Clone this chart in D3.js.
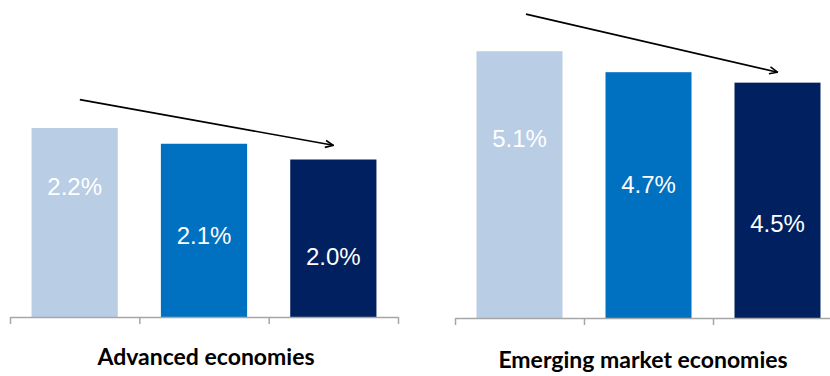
<!DOCTYPE html>
<html>
<head>
<meta charset="utf-8">
<script src="https://cdn.jsdelivr.net/npm/d3@7"></script>
<style>
  html, body { margin: 0; padding: 0; background: #fff; }
  svg { display: block; }
</style>
</head>
<body>
<svg id="chart" width="830" height="376"></svg>
<script>
// ---- data ----
const periods = ["A", "B", "C"];
const advancedValues = [2.2, 2.1, 2.0];
const emergingValues = [5.1, 4.7, 4.5];
const valueLabels = v => v.toFixed(1) + "%";
const groupNames = ["Advanced economies", "Emerging market economies"];
const barColors = ["#B9CDE5", "#0070C0", "#002060"];

// ---- layout (not data) ----
const panels = [
  { name: groupNames[0], values: advancedValues, x0: 10, x1: 398, base: 317, yDomain: [1, 3], yTop: 2,
    labelY: [195, 244, 265], titleX: 206, titleY: 365,
    arrow: { from: [0.04, 2.38], to: [2.0, 2.09] } },
  { name: groupNames[1], values: emergingValues, x0: 455, x1: 842, base: 318, yDomain: [0, 6], yTop: 4.2,
    labelY: [147, 193, 232], titleX: 643, titleY: 368,
    arrow: { from: [0.05, 5.81], to: [2.0, 4.70] } }
];

const svg = d3.select("#chart");
const defs = svg.append("defs");
defs.append("marker")
  .attr("id", "arrowhead")
  .attr("viewBox", "0 0 10 10")
  .attr("refX", 9).attr("refY", 5)
  .attr("markerWidth", 10).attr("markerHeight", 10)
  .attr("markerUnits", "userSpaceOnUse")
  .attr("orient", "auto")
  .append("path")
  .attr("d", "M1,1.5 L9,5 L1,8.5")
  .attr("fill", "none")
  .attr("stroke", "#000")
  .attr("stroke-width", 1.6);

panels.forEach(p => {
  const g = svg.append("g");
  const x = d3.scaleBand().domain(periods).range([p.x0, p.x1])
    .paddingInner(1/3).paddingOuter(1/6);
  const y = d3.scaleLinear().domain(p.yDomain).range([p.base, p.yTop]);

  // bars
  g.selectAll("rect").data(p.values).join("rect")
    .attr("x", (d, i) => x(periods[i]))
    .attr("width", x.bandwidth())
    .attr("y", d => y(d))
    .attr("height", d => p.base - y(d))
    .attr("fill", (d, i) => barColors[i]);

  // value labels
  g.selectAll("text.val").data(p.values).join("text")
    .attr("class", "val")
    .attr("x", (d, i) => x(periods[i]) + x.bandwidth() / 2)
    .attr("y", (d, i) => p.labelY[i])
    .attr("text-anchor", "middle")
    .attr("fill", "#fff")
    .attr("font-family", "Liberation Sans, Arial, sans-serif")
    .attr("font-size", 24)
    .text(d => valueLabels(d));

  // axis with ticks at category boundaries
  const bx = d3.scaleLinear().domain([0, periods.length]).range([p.x0, p.x1]);
  const axis = d3.axisBottom(bx).tickValues(d3.range(periods.length + 1))
    .tickSize(7).tickSizeOuter(0).tickFormat("");
  const ag = g.append("g").attr("transform", `translate(0,${p.base})`).call(axis);
  ag.select(".domain").attr("stroke", "#A6A6A6").attr("stroke-width", 1.5);
  ag.selectAll(".tick line").attr("stroke", "#A6A6A6").attr("stroke-width", 1.5);

  // group title
  g.append("text")
    .attr("x", p.titleX).attr("y", p.titleY)
    .attr("text-anchor", "middle")
    .attr("font-family", "Lato, 'Open Sans', sans-serif")
    .attr("font-weight", "bold")
    .attr("font-size", 23)
    .attr("fill", "#000")
    .text(p.name);

  // trend arrow
  const px = f => p.x0 + x.step() * (1/6) + f * x.step() + x.bandwidth() / 2;
  g.append("line")
    .attr("x1", px(p.arrow.from[0])).attr("y1", y(p.arrow.from[1]))
    .attr("x2", px(p.arrow.to[0])).attr("y2", y(p.arrow.to[1]))
    .attr("stroke", "#000").attr("stroke-width", 1.6)
    .attr("marker-end", "url(#arrowhead)");
});
</script>
</body>
</html>
